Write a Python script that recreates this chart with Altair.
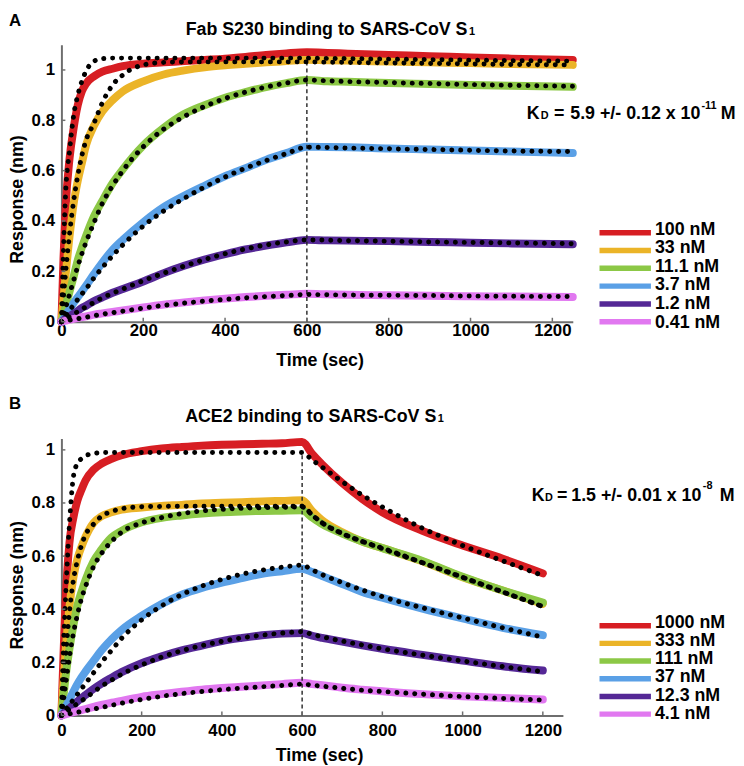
import altair as alt
import pandas as pd

FONT = "Liberation Sans"
COLORS = ["#D71E23", "#EBB428", "#8CC846", "#5AA0E6", "#552896", "#E178F0"]

X_TICKS = [0, 200, 400, 600, 800, 1000, 1200]
Y_TICKS = [0, 0.2, 0.4, 0.6, 0.8, 1.0]

# ---------------- Panel A : Fab S230 ----------------
A_CONC = ["100 nM", "33 nM", "11.1 nM", "3.7 nM", "1.2 nM", "0.41 nM"]
A_TIME = [0, 5, 10, 20, 30, 40, 50, 60, 80, 100,
          125, 150, 200, 250, 300, 350, 400, 450, 500, 550, 600,
          650, 700, 800, 900, 1000, 1100, 1250]

A_RESP_100 = [0, 0.25, 0.445, 0.65, 0.77, 0.86, 0.915, 0.945, 0.975, 0.993,
              1.005, 1.015, 1.025, 1.03, 1.035, 1.04, 1.045, 1.052, 1.06, 1.066, 1.07,
              1.068, 1.065, 1.06, 1.055, 1.05, 1.045, 1.04]
A_RESP_33 = [0, 0.09, 0.18, 0.34, 0.47, 0.56, 0.63, 0.70, 0.78, 0.835,
             0.88, 0.915, 0.955, 0.982, 0.998, 1.01, 1.018, 1.024, 1.03, 1.035, 1.04,
             1.038, 1.037, 1.033, 1.03, 1.027, 1.023, 1.02]
A_RESP_11 = [0, 0.03, 0.06, 0.12, 0.18, 0.245, 0.295, 0.34, 0.42, 0.48,
             0.55, 0.605, 0.70, 0.77, 0.825, 0.86, 0.89, 0.912, 0.932, 0.948, 0.96,
             0.955, 0.953, 0.948, 0.944, 0.94, 0.937, 0.933]
A_RESP_3 = [0, 0.012, 0.025, 0.05, 0.075, 0.098, 0.12, 0.143, 0.19, 0.235,
            0.285, 0.325, 0.395, 0.455, 0.50, 0.54, 0.578, 0.61, 0.643, 0.67, 0.695,
            0.694, 0.693, 0.688, 0.684, 0.68, 0.676, 0.67]
A_RESP_1 = [0, 0.006, 0.011, 0.022, 0.032, 0.043, 0.055, 0.063, 0.082, 0.097,
            0.115, 0.13, 0.16, 0.193, 0.222, 0.247, 0.268, 0.287, 0.302, 0.315, 0.325,
            0.323, 0.322, 0.32, 0.317, 0.314, 0.311, 0.308]
A_RESP_04 = [0, 0.002, 0.004, 0.008, 0.011, 0.015, 0.018, 0.021, 0.028, 0.033,
             0.039, 0.045, 0.057, 0.068, 0.077, 0.085, 0.092, 0.098, 0.103, 0.107, 0.111,
             0.109, 0.107, 0.105, 0.103, 0.101, 0.1, 0.098]

A_FIT_100 = [0, 0.28, 0.5, 0.68, 0.82, 0.9, 0.955, 0.995, 1.035, 1.045,
             1.047, 1.047, 1.047, 1.047, 1.047, 1.047, 1.047, 1.047, 1.047, 1.047, 1.047,
             1.046, 1.045, 1.043, 1.041, 1.039, 1.037, 1.035]
A_FIT_33 = [0, 0.1, 0.19, 0.35, 0.48, 0.58, 0.66, 0.72, 0.79, 0.87,
            0.94, 0.98, 1.02, 1.03, 1.032, 1.032, 1.032, 1.032, 1.032, 1.032, 1.032,
            1.031, 1.03, 1.028, 1.026, 1.024, 1.022, 1.02]
A_FIT_11 = [0, 0.028, 0.055, 0.11, 0.165, 0.22, 0.27, 0.315, 0.395, 0.47,
            0.54, 0.6, 0.695, 0.765, 0.815, 0.855, 0.887, 0.912, 0.932, 0.948, 0.96,
            0.957, 0.954, 0.95, 0.946, 0.942, 0.939, 0.935]
A_FIT_3 = [0, 0.011, 0.022, 0.045, 0.067, 0.089, 0.11, 0.13, 0.175, 0.215,
           0.262, 0.305, 0.38, 0.44, 0.49, 0.535, 0.575, 0.61, 0.64, 0.668, 0.693,
           0.692, 0.69, 0.687, 0.684, 0.681, 0.678, 0.676]
A_FIT_1 = [0, 0.005, 0.01, 0.02, 0.03, 0.04, 0.05, 0.059, 0.077, 0.095,
           0.113, 0.13, 0.163, 0.193, 0.221, 0.247, 0.27, 0.289, 0.305, 0.317, 0.325,
           0.324, 0.322, 0.32, 0.317, 0.315, 0.313, 0.31]
A_FIT_04 = [0, 0.001, 0.003, 0.006, 0.009, 0.012, 0.015, 0.018, 0.024, 0.03,
            0.036, 0.042, 0.054, 0.065, 0.074, 0.082, 0.089, 0.095, 0.1, 0.104, 0.108,
            0.107, 0.106, 0.105, 0.104, 0.102, 0.101, 0.1]

# ---------------- Panel B : ACE2 ----------------
B_CONC = ["1000 nM", "333 nM", "111 nM", "37 nM", "12.3 nM", "4.1 nM"]
B_TIME = [0, 5, 10, 20, 30, 40, 50, 60, 80, 100,
          125, 150, 200, 250, 300, 350, 400, 450, 500, 550,
          600, 625, 650, 700, 750, 800, 900, 1000, 1100, 1200]

B_RESP_1000 = [0, 0.22, 0.42, 0.65, 0.745, 0.81, 0.85, 0.885, 0.925, 0.948,
               0.966, 0.98, 0.995, 1.005, 1.011, 1.016, 1.019, 1.021, 1.023, 1.025,
               1.03, 0.985, 0.945, 0.875, 0.815, 0.765, 0.695, 0.64, 0.59, 0.535]
B_RESP_333 = [0, 0.12, 0.23, 0.41, 0.52, 0.59, 0.635, 0.672, 0.725, 0.75,
              0.765, 0.775, 0.783, 0.789, 0.793, 0.798, 0.801, 0.803, 0.806, 0.808,
              0.81, 0.77, 0.735, 0.69, 0.655, 0.63, 0.58, 0.52, 0.47, 0.42]
B_RESP_111 = [0, 0.07, 0.14, 0.25, 0.34, 0.415, 0.465, 0.51, 0.58, 0.625,
              0.67, 0.695, 0.727, 0.744, 0.753, 0.76, 0.765, 0.768, 0.77, 0.771,
              0.772, 0.745, 0.72, 0.685, 0.655, 0.63, 0.582, 0.522, 0.47, 0.425]
B_RESP_37 = [0, 0.015, 0.03, 0.06, 0.09, 0.118, 0.143, 0.165, 0.205, 0.245,
             0.287, 0.322, 0.375, 0.42, 0.455, 0.48, 0.5, 0.517, 0.533, 0.543,
             0.552, 0.54, 0.525, 0.495, 0.465, 0.443, 0.402, 0.365, 0.33, 0.302]
B_RESP_12 = [0, 0.007, 0.014, 0.027, 0.04, 0.053, 0.065, 0.077, 0.1, 0.12,
             0.142, 0.163, 0.197, 0.223, 0.245, 0.263, 0.28, 0.292, 0.302, 0.308,
             0.31, 0.3, 0.292, 0.278, 0.264, 0.251, 0.228, 0.206, 0.185, 0.169]
B_RESP_4 = [0, 0.002, 0.004, 0.008, 0.012, 0.016, 0.02, 0.024, 0.032, 0.04,
            0.048, 0.055, 0.07, 0.08, 0.089, 0.097, 0.103, 0.108, 0.113, 0.118,
            0.123, 0.118, 0.114, 0.104, 0.097, 0.091, 0.08, 0.072, 0.066, 0.06]

B_FIT_1000 = [0, 0.25, 0.43, 0.72, 0.9, 0.95, 0.967, 0.978, 0.986, 0.99,
              0.99, 0.99, 0.99, 0.99, 0.99, 0.99, 0.99, 0.99, 0.99, 0.99,
              0.99, 0.962, 0.935, 0.88, 0.83, 0.785, 0.705, 0.64, 0.582, 0.527]
B_FIT_333 = [0, 0.11, 0.21, 0.39, 0.51, 0.585, 0.64, 0.68, 0.72, 0.75,
             0.768, 0.778, 0.786, 0.787, 0.788, 0.788, 0.788, 0.788, 0.788, 0.788,
             0.788, 0.755, 0.725, 0.685, 0.655, 0.63, 0.575, 0.52, 0.465, 0.41]
B_FIT_111 = [0, 0.055, 0.11, 0.22, 0.31, 0.38, 0.44, 0.485, 0.56, 0.61,
             0.655, 0.69, 0.725, 0.745, 0.76, 0.77, 0.776, 0.78, 0.782, 0.784,
             0.785, 0.755, 0.725, 0.685, 0.655, 0.628, 0.575, 0.52, 0.465, 0.41]
B_FIT_37 = [0, 0.01, 0.02, 0.04, 0.06, 0.08, 0.1, 0.12, 0.16, 0.2,
            0.245, 0.29, 0.36, 0.413, 0.455, 0.487, 0.512, 0.532, 0.547, 0.558,
            0.566, 0.548, 0.53, 0.5, 0.472, 0.447, 0.405, 0.367, 0.33, 0.295]
B_FIT_12 = [0, 0.006, 0.012, 0.023, 0.034, 0.045, 0.055, 0.065, 0.088, 0.11,
            0.133, 0.155, 0.19, 0.22, 0.244, 0.263, 0.279, 0.292, 0.302, 0.31,
            0.315, 0.305, 0.296, 0.28, 0.265, 0.251, 0.227, 0.205, 0.184, 0.165]
B_FIT_4 = [0, 0.0015, 0.003, 0.006, 0.009, 0.012, 0.015, 0.018, 0.024, 0.03,
           0.038, 0.046, 0.06, 0.072, 0.082, 0.09, 0.097, 0.103, 0.108, 0.113,
           0.118, 0.114, 0.11, 0.102, 0.095, 0.09, 0.08, 0.071, 0.064, 0.058]

ONE = pd.DataFrame({"a": [0]})


def long_df(time, conc, series):
    rows = []
    for i, (c, vals) in enumerate(zip(conc, series)):
        for t, v in zip(time, vals):
            rows.append({"t": t, "v": v, "conc": c, "k": i})
    return pd.DataFrame(rows)


def txt(text, x, y, size, align="left", baseline="alphabetic"):
    return alt.Chart(ONE).mark_text(
        text=text, font=FONT, fontWeight="bold", fontSize=size, align=align,
        baseline=baseline, color="black"
    ).encode(x=alt.value(x), y=alt.value(y))


def panel(time, conc, resp, fits, ytop, width, dash_top, letter, letter_y,
          title_main, title_right, title_base, kd_parts, leg_line_rng, leg_text_rng,
          lab_pad, tit_pad, xtitle_x, ytitle_y):
    H = 280
    xs = alt.Scale(domain=[0, 1250], nice=False, zero=False)
    ys = alt.Scale(domain=[0, ytop], nice=False, zero=False)
    cs = alt.Scale(domain=conc, range=COLORS)
    ddf = long_df(time, conc, resp)
    fdf = long_df(time, conc, fits)

    xaxis = alt.Axis(values=X_TICKS, format="d", title="Time (sec)", ticks=False, tickSize=0,
                     labelPadding=lab_pad, titlePadding=tit_pad, grid=False, labelFlush=False,
                     domainColor="#6e6e6e", domainWidth=2, labelFont=FONT, labelFontSize=17,
                     labelFontWeight="bold", labelColor="black", titleFont=FONT, titleFontSize=18,
                     titleFontWeight="bold", titleColor="black", titleX=xtitle_x, labelOverlap=False)
    yaxis = alt.Axis(values=Y_TICKS, format="~g", title="Response (nm)", ticks=False, tickSize=0,
                     labelPadding=7, titlePadding=5, grid=False, domainColor="#6e6e6e",
                     domainWidth=2, labelFont=FONT, labelFontSize=17, labelFontWeight="bold",
                     labelColor="black", titleFont=FONT, titleFontSize=18, titleFontWeight="bold",
                     titleColor="black", titleY=ytitle_y, labelOverlap=False)

    lines = alt.Chart(ddf).mark_line(strokeWidth=8, interpolate="monotone", strokeCap="round",
                                     strokeJoin="round").encode(
        x=alt.X("t:Q", scale=xs, axis=xaxis),
        y=alt.Y("v:Q", scale=ys, axis=yaxis),
        color=alt.Color("conc:N", scale=cs, legend=None),
        order=alt.Order("t:Q"),
    )
    fitl = alt.Chart(fdf).mark_line(color="black", strokeWidth=5, strokeDash=[0.1, 8.9],
                                    strokeCap="round", interpolate="monotone").encode(
        x=alt.X("t:Q", scale=xs),
        y=alt.Y("v:Q", scale=ys),
        detail="conc:N",
    )
    xt = alt.Chart(pd.DataFrame({"t": X_TICKS})).mark_rule(color="#6e6e6e", strokeWidth=1.5).encode(
        x=alt.X("t:Q", scale=xs), y=alt.value(H - 4), y2=alt.value(H))
    yt = alt.Chart(pd.DataFrame({"v": Y_TICKS})).mark_rule(color="#6e6e6e", strokeWidth=1.5).encode(
        y=alt.Y("v:Q", scale=ys), x=alt.value(0), x2=alt.value(4))
    dash = alt.Chart(pd.DataFrame({"t": [600], "v": [0], "v2": [dash_top]})).mark_rule(
        color="#222222", strokeWidth=1.4, strokeDash=[4, 3]).encode(
        x=alt.X("t:Q", scale=xs), y=alt.Y("v:Q", scale=ys), y2="v2:Q")

    inner = alt.layer(lines, dash, fitl, xt, yt)

    ldf = pd.DataFrame({"conc": conc})
    leg_rule = alt.Chart(ldf).mark_rule(strokeWidth=5.5).encode(
        y=alt.Y("conc:N", sort=conc, scale=alt.Scale(type="point", range=leg_line_rng, padding=0), axis=None),
        x=alt.value(544), x2=alt.value(596),
        color=alt.Color("conc:N", scale=cs, legend=None),
    )
    leg_text = alt.Chart(ldf).mark_text(align="left", baseline="middle", font=FONT, fontWeight="bold",
                                        fontSize=18, color="black").encode(
        y=alt.Y("conc:N", sort=conc, scale=alt.Scale(type="point", range=leg_text_rng, padding=0), axis=None),
        x=alt.value(600),
        text="conc:N",
    )

    ann = [
        txt(letter, -53, letter_y, 17),
        txt(title_main, title_right, title_base, 18, align="right"),
        txt("1", title_right + 1.5, title_base, 11),
    ]
    for (s, x, y, size, al) in kd_parts:
        ann.append(txt(s, x, y, size, align=al))

    outer = alt.layer(inner, leg_rule, leg_text, *ann).resolve_scale(y="independent")
    return outer.properties(width=width, height=H)


panel_a = panel(
    A_TIME, A_CONC,
    [A_RESP_100, A_RESP_33, A_RESP_11, A_RESP_3, A_RESP_1, A_RESP_04],
    [A_FIT_100, A_FIT_33, A_FIT_11, A_FIT_3, A_FIT_1, A_FIT_04],
    1.1, 517, 1.04, "A", -19,
    "Fab S230 binding to SARS-CoV S", 410.5, -10,
    [("K", 470.5, 75, 18, "left"), ("D", 484.5, 75, 11, "left"), ("=", 498, 75, 18, "left"),
     ("5.9 +/- 0.12 x 10", 646, 75, 18, "right"),
     ("-11", 647, 65, 11, "left"), ("M", 666.5, 75, 18, "left")],
    [190, 280], [187, 281], 1, 13, 261, 156,
)

panel_b = panel(
    B_TIME, B_CONC,
    [B_RESP_1000, B_RESP_333, B_RESP_111, B_RESP_37, B_RESP_12, B_RESP_4],
    [B_FIT_1000, B_FIT_333, B_FIT_111, B_FIT_37, B_FIT_12, B_FIT_4],
    1.043, 507, 0.99, "B", -29.5,
    "ACE2 binding to SARS-CoV S", 379, -16.3,
    [("K", 475.5, 63.7, 18, "left"), ("D", 489, 63.7, 11, "left"), ("=", 501, 63.7, 18, "left"),
     ("1.5 +/- 0.01 x 10", 647, 63.7, 18, "right"),
     ("-8", 648.5, 51.5, 11, "left"), ("M", 665.5, 63.7, 18, "left")],
    [189.3, 278.7], [186.5, 278.3], 7, 9, 260.5, 148,
)

chart = alt.vconcat(panel_a, panel_b, spacing=118, bounds="flush").resolve_scale(
    x="independent", y="independent", color="independent"
).properties(padding=0, background="white").configure_view(stroke=None)

chart.save("out.html", embed_options={"renderer": "svg", "actions": False})
